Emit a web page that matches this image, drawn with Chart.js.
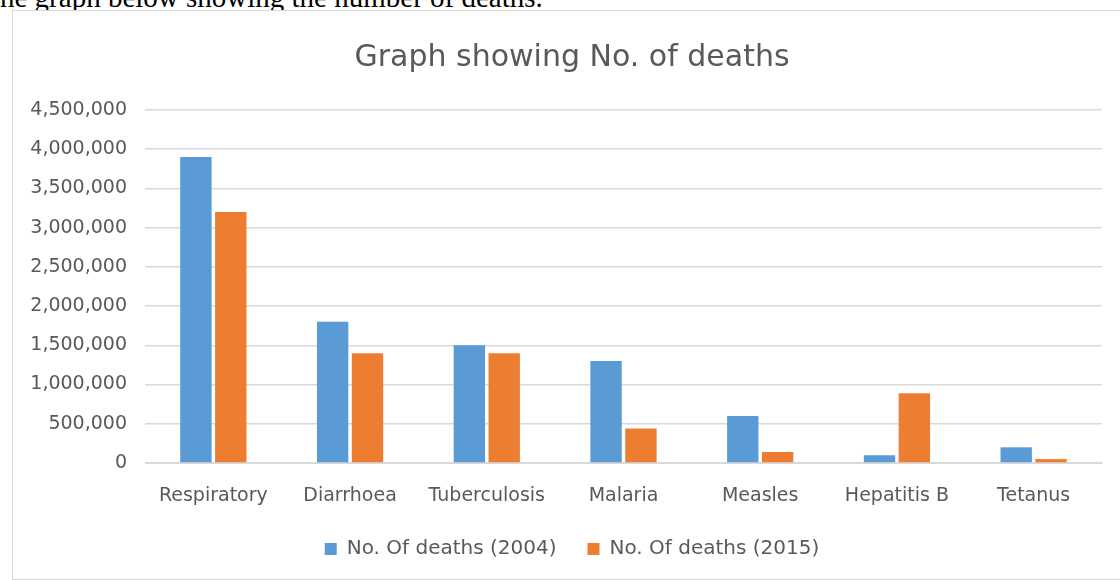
<!DOCTYPE html>
<html>
<head>
<meta charset="utf-8">
<script src="https://cdn.jsdelivr.net/npm/chart.js@4/dist/chart.umd.min.js"></script>
<style>
    body { margin: 0; background: #fff; width: 1120px; height: 580px; overflow: hidden; position: relative; }
    #caption { position: absolute; left: 0; top: -17px; font: 29px "Liberation Serif", serif; line-height: 29px; color: #000; white-space: nowrap; }
    #frame { position: absolute; left: 12px; top: 10px; width: 1120px; height: 568px; border: 1px solid #d9d9d9; border-right: none; background: #fff; }
    #frame canvas { display: block; }
</style>
</head>
<body>
<div id="caption">he graph below showing the number of deaths.</div>
<div id="frame"><canvas id="deathsChart" width="1118" height="567"></canvas></div>
<script>
    // Kategorien und Werte
    const categories = ['Respiratory', 'Diarrhoea', 'Tuberculosis', 'Malaria', 'Measles', 'Hepatitis B', 'Tetanus'];
    const deaths2004 = [3900000, 1800000, 1500000, 1300000, 600000, 100000, 200000];
    const deaths2015 = [3200000, 1400000, 1400000, 440000, 140000, 890000, 50000];
    const seriesLabels = ['No. Of deaths (2004)', 'No. Of deaths (2015)'];

    const textColor = '#595959';
    const fontFamily = '"DejaVu Sans", sans-serif';

    new Chart('deathsChart', {
        type: 'bar',
        data: {
            labels: categories,
            datasets: [{
                label: seriesLabels[0],
                data: deaths2004,
                backgroundColor: '#5B9BD5',
                categoryPercentage: 0.51,
                barPercentage: 0.9
            }, {
                label: seriesLabels[1],
                data: deaths2015,
                backgroundColor: '#ED7D31',
                categoryPercentage: 0.51,
                barPercentage: 0.9
            }]
        },
        options: {
            responsive: false,
            animation: false,
            layout: {padding: {top: 29, right: 0, bottom: 9, left: 0}},
            plugins: {
                title: {
                    display: true,
                    text: 'Graph showing No. of deaths',
                    color: textColor,
                    font: {family: fontFamily, size: 30, weight: 'normal'},
                    padding: {top: 0, bottom: 34}
                },
                legend: {
                    position: 'bottom',
                    labels: {
                        color: textColor,
                        font: {family: fontFamily, size: 20},
                        boxWidth: 12,
                        boxHeight: 12,
                        padding: 31
                    }
                },
                tooltip: {enabled: false}
            },
            scales: {
                x: {
                    afterFit: (scale) => { scale.height = 45; },
                    grid: {display: false, drawTicks: false},
                    border: {color: '#d9d9d9', width: 1},
                    ticks: {color: textColor, font: {family: fontFamily, size: 19}, padding: 22}
                },
                y: {
                    min: 0,
                    max: 4500000,
                    afterFit: (scale) => { scale.width = 132; },
                    grid: {color: '#d9d9d9', lineWidth: 1.5, drawTicks: false},
                    border: {display: false},
                    ticks: {
                        stepSize: 500000,
                        color: textColor,
                        font: {family: fontFamily, size: 19},
                        padding: 18,
                        callback: (v) => v.toLocaleString('en-US')
                    }
                },
                // leere Achse rechts, damit Titel und Legende mittig sitzen
                spacer: {
                    position: 'right',
                    afterFit: (scale) => { scale.width = 29; },
                    grid: {display: false, drawTicks: false},
                    border: {display: false},
                    ticks: {display: false}
                }
            }
        }
    });
</script>
</body>
</html>
